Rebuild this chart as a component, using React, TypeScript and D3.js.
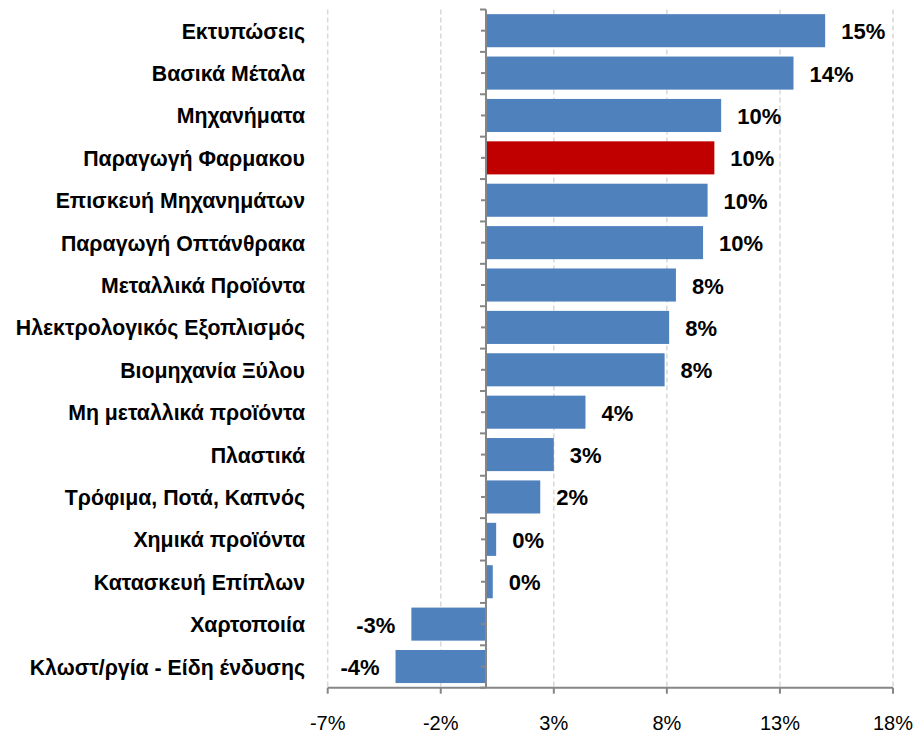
import React from "react";
import * as d3 from "d3";

const categories = [
  "Εκτυπώσεις",
  "Βασικά Μέταλα",
  "Μηχανήματα",
  "Παραγωγή Φαρμακου",
  "Επισκευή Μηχανημάτων",
  "Παραγωγή Οπτάνθρακα",
  "Μεταλλικά Προϊόντα",
  "Ηλεκτρολογικός Εξοπλισμός",
  "Βιομηχανία Ξύλου",
  "Μη μεταλλικά προϊόντα",
  "Πλαστικά",
  "Τρόφιμα, Ποτά, Καπνός",
  "Χημικά προϊόντα",
  "Κατασκευή Επίπλων",
  "Χαρτοποιία",
  "Κλωστ/ργία - Είδη ένδυσης",
];
const values = [15.0, 13.6, 10.4, 10.1, 9.8, 9.6, 8.4, 8.1, 7.9, 4.4, 3.0, 2.4, 0.45, 0.3, -3.3, -4.0];
const highlighted = ["Παραγωγή Φαρμακου"];
const xTicks = [-7, -2, 3, 8, 13, 18];

const W = 914;
const H = 733;
const left = 327.7;
const right = 893;
const top = 9.5;
const bottom = 687.7;
const FONT = "'Liberation Sans', Arial, sans-serif";

export default function App() {
  const x = d3.scaleLinear().domain([-7, 18]).range([left, right]);
  const y = d3.scaleBand<string>().domain(categories).range([top, bottom]).paddingInner(0.22).paddingOuter(0.11);
  const step = y.step();
  const x0 = x(0);
  const fmt = (v: number) => String(Math.round(v) === 0 ? 0 : Math.round(v));
  const axisColor = "#868686";

  const boundaryTicks = d3.range(categories.length + 1).map((i) => top + i * step);
  const centerTicks = categories.map((c) => (y(c) as number) + y.bandwidth() / 2);

  return (
    <svg width={W} height={H} style={{ position: "absolute", left: 0, top: 0, background: "#fff" }}>
      {/* gridlines */}
      {xTicks.map((t) => (
        <line key={"g" + t} x1={x(t)} x2={x(t)} y1={top} y2={bottom} stroke="#D9D9D9" strokeWidth={1.5} strokeDasharray="5,3" />
      ))}
      {/* bars */}
      {categories.map((c, i) => {
        const v = values[i];
        const by = y(c) as number;
        return (
          <rect
            key={c}
            x={Math.min(x(v), x0)}
            y={by}
            width={Math.abs(x(v) - x0)}
            height={y.bandwidth()}
            fill={highlighted.includes(c) ? "#C00000" : "#4F81BD"}
          />
        );
      })}
      {/* bottom axis */}
      <line x1={left} x2={right} y1={bottom} y2={bottom} stroke={axisColor} strokeWidth={2} />
      {xTicks.map((t) => (
        <g key={"t" + t}>
          <line x1={x(t)} x2={x(t)} y1={bottom} y2={bottom + 6} stroke={axisColor} strokeWidth={2} />
          <text x={x(t)} y={730} textAnchor="middle" fontFamily={FONT} fontSize={20} fill="#000">
            {t}%
          </text>
        </g>
      ))}
      {/* vertical axis at zero */}
      <line x1={x0} x2={x0} y1={top} y2={bottom} stroke={axisColor} strokeWidth={2} />
      {boundaryTicks.map((t, i) => (
        <line key={"b" + i} x1={x0 - 6} x2={x0} y1={t} y2={t} stroke={axisColor} strokeWidth={2} />
      ))}
      {centerTicks.map((t, i) => (
        <line key={"c" + i} x1={x0 - 5} x2={x0} y1={t} y2={t} stroke={axisColor} strokeWidth={2} />
      ))}
      {/* category labels */}
      {categories.map((c) => {
        const cy = (y(c) as number) + y.bandwidth() / 2;
        return (
          <text key={"l" + c} x={305} y={cy + 8} textAnchor="end" fontFamily={FONT} fontWeight="bold" fontSize={21.3} fill="#000">
            {c}
          </text>
        );
      })}
      {/* value labels */}
      {categories.map((c, i) => {
        const v = values[i];
        const cy = (y(c) as number) + y.bandwidth() / 2;
        const pos = v >= 0;
        return (
          <text
            key={"v" + c}
            x={pos ? x(v) + 16 : x(v) - 16}
            y={cy + 8.5}
            textAnchor={pos ? "start" : "end"}
            fontFamily={FONT}
            fontWeight="bold"
            fontSize={22}
            fill="#000"
          >
            {fmt(v)}%
          </text>
        );
      })}
    </svg>
  );
}
